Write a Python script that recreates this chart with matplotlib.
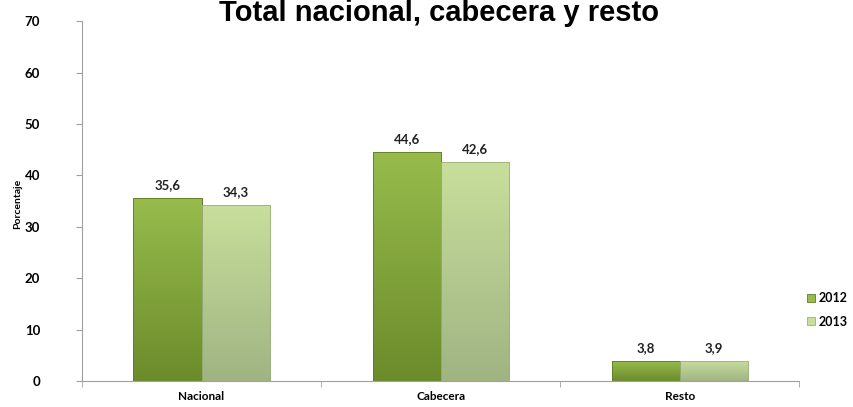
import numpy as np
import matplotlib
matplotlib.use("Agg")
import matplotlib.pyplot as plt
from matplotlib.colors import LinearSegmentedColormap

categories = ["Nacional", "Cabecera", "Resto"]
series_names = ["2012", "2013"]
values_2012 = [35.6, 44.6, 3.8]
values_2013 = [34.3, 42.6, 3.9]
labels_2012 = ["35,6", "44,6", "3,8"]
labels_2013 = ["34,3", "42,6", "3,9"]
yticks = [0, 10, 20, 30, 40, 50, 60, 70]

fig = plt.figure(figsize=(8.54, 4.07), dpi=100)
ax = fig.add_axes([0.096, 0.064, 0.84, 0.884])

x = np.arange(len(categories))
w = 0.285
colors_top = ["#97BC4C", "#C8DF9C"]
colors_bot = ["#6C8B2B", "#A0B483"]
edge = ["#5F7A25", "#9DB07C"]

ax.set_xlim(-0.5, len(categories) - 0.5)
ax.set_ylim(0, 70)

for s, (vals, labs) in enumerate([(values_2012, labels_2012), (values_2013, labels_2013)]):
    offs = -w / 2 if s == 0 else w / 2
    bars = ax.bar(x + offs, vals, width=w, color=colors_top[s], edgecolor=edge[s],
                  linewidth=0.6, label=series_names[s], zorder=2)
    cmap = LinearSegmentedColormap.from_list("g%d" % s, [colors_bot[s], colors_top[s]])
    grad = np.linspace(0, 1, 256).reshape(-1, 1)
    for b in bars:
        x0, y0 = b.get_x(), b.get_y()
        im = ax.imshow(grad, extent=[x0, x0 + b.get_width(), y0, y0 + b.get_height()],
                       origin="lower", aspect="auto", cmap=cmap, zorder=2.1)
        im.set_clip_path(b)
        ax.add_patch(plt.Rectangle((x0, y0), b.get_width(), b.get_height(), fill=False,
                                   edgecolor=edge[s], linewidth=0.6, zorder=2.2))
    for xi, v, lab in zip(x + offs, vals, labs):
        ax.annotate(lab, (xi, v), xytext=(0, 5), textcoords="offset points",
                    ha="center", va="bottom", fontsize=9.5, fontweight="bold",
                    family="Lato", color="#222222")

ax.set_xticks(x)
ax.set_xticklabels(categories, fontsize=8.5, fontweight="bold", family="Lato")
ax.set_xticks(np.arange(-0.5, len(categories)), minor=True)
ax.tick_params(axis="x", which="major", length=0, pad=7)
ax.tick_params(axis="x", which="minor", length=4, color="#A0A0A0")
ax.set_yticks(yticks)
ax.set_yticklabels([str(t) for t in yticks], fontsize=9.5, fontweight="bold", family="Lato")
ax.tick_params(axis="y", length=4, color="#A0A0A0", pad=26)

for sp in ["top", "right"]:
    ax.spines[sp].set_visible(False)
for sp in ["left", "bottom"]:
    ax.spines[sp].set_color("#A0A0A0")
    ax.spines[sp].set_linewidth(0.8)

fig.text(0.021, 0.5, "Porcentaje", rotation=90, ha="center", va="center",
         fontsize=7.5, fontweight="bold", family="Lato")

fig.text(0.514, 1 - 21 / 407, "Total nacional, cabecera y resto", ha="center", va="baseline",
         fontsize=21, fontweight="bold", family="Liberation Sans")

leg = ax.legend(loc="center left", bbox_to_anchor=(0.945, 1 - 310 / 407),
                bbox_transform=fig.transFigure, borderpad=0, borderaxespad=0,
                frameon=False, handlelength=0.6, handleheight=0.6, handletextpad=0.3,
                labelspacing=0.9, prop={"family": "Lato", "weight": "bold", "size": 9})

fig.savefig("out.png", dpi=100)
